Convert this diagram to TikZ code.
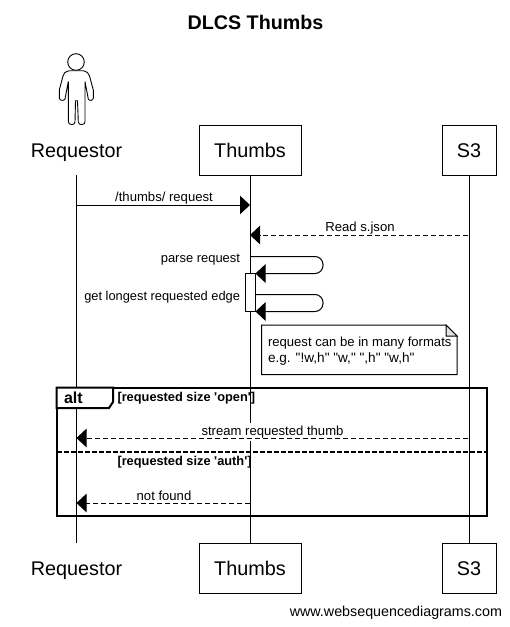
\documentclass[tikz,border=0pt]{standalone}
\usepackage{fontspec}
\setmainfont{Liberation Sans}
\newfontfamily\plainf{Liberation Sans}
\usetikzlibrary{arrows.meta}
\newcommand{\fs}[1]{\plainf\fontsize{#1}{#1}\selectfont}
\tikzset{
  x=1pt,y=-1pt,
  every node/.style={inner sep=0pt,outer sep=0pt},
  party/.style={minimum width=#1,minimum height=50pt,font=\fs{19.8},text height=14.5pt,text depth=0pt},
  partybox/.style={party=#1,draw=black,line width=1pt,fill=white},
  lifeline/.style={line width=1pt},
  msg/.style={line width=1pt,-{Triangle[length=10pt,width=18.5pt]}},
  reply/.style={msg,dash pattern=on 5pt off 3pt},
  selfmsg/.style={msg,rounded corners=8pt},
  label/.style={font=\fs{13.1},anchor=base},
  frame/.style={line width=2pt},
  frametext/.style={font=\fs{12.8}\bfseries,anchor=base west},
}
\begin{document}
\begin{tikzpicture}
\useasboundingbox (0,0) rectangle (510,627);
\fill[white] (0,0) rectangle (510,627);
\node[font=\fs{19.7}\bfseries,anchor=base] (title) at (255.5,29) {DLCS Thumbs};
% parties
\node[party=100pt] (reqT) at (76.5,150) {Requestor};
\node[partybox=102pt] (thT) at (250,150) {Thumbs};
\node[partybox=54pt] (s3T) at (469,150) {S3};
\node[party=100pt] (reqB) at (76.5,568) {Requestor};
\node[partybox=102pt] (thB) at (250,568) {Thumbs};
\node[partybox=54pt] (s3B) at (469,568) {S3};
% lifelines
\draw[lifeline] (reqT.south) -- (reqB.north);
\draw[lifeline] (thT.south) -- (thB.north);
\draw[lifeline] (s3T.south) -- (s3B.north);
% actor
\draw[line width=0.9pt,fill=white] (76,62) circle (8.3);
\draw[line width=0.9pt,fill=white,line join=round]
  (69.3,70.7) .. controls (65,72) and (63.5,73) .. (63,76)
  -- (59.3,90) -- (59.3,98) .. controls (59.5,101) and (64,101) .. (65,99)
  -- (68.3,81.7) -- (68.3,121.7) .. controls (68.5,125.5) and (75,125.5) .. (75,122)
  -- (75.5,100.7) -- (77.5,100.7) -- (78.3,122) .. controls (78.5,125.5) and (85,125.5) .. (85,121.7)
  -- (85,81.7) -- (88.3,99) .. controls (89,101) and (93.3,101) .. (93.3,98)
  -- (93.3,90) -- (89.5,76) .. controls (89,73) and (87,72) .. (83.3,70.7) -- cycle;
% messages
\coordinate (a1) at (76.5,205);
\coordinate (b1) at (250,205);
\draw[msg] (a1) -- (b1);
\node[label] (m1) at (164,201) {/thumbs/ request};
\coordinate (c2) at (468,235);
\coordinate (b2) at (250,235);
\draw[reply] (c2) -- (b2);
\node[label] (m2) at (360,231) {Read s.json};
\coordinate (b3) at (250,256.5);
\coordinate (b3r) at (323,256.5);
\coordinate (b3s) at (323,273.5);
\coordinate (b3e) at (255.5,273.5);
\draw[selfmsg] (b3) -- (b3r) -- (b3s) -- (b3e);
\node[label,font=\fs{12.95},anchor=base east] (m3) at (240,262) {parse request};
\node[draw=black,line width=1pt,fill=white,minimum width=9.5pt,minimum height=38pt] (act) at (250.3,292.3) {};
\coordinate (b4r) at (323,294.5);
\coordinate (b4s) at (323,311.5);
\coordinate (b4a) at (255,294.5);
\coordinate (b4e) at (255.5,311.5);
\draw[selfmsg] (b4a) -- (b4r) -- (b4s) -- (b4e);
\node[label,font=\fs{12.85},anchor=base east] (m4) at (240,300) {get longest requested edge};
% note
\draw[line width=1pt,fill=white] (261.5,325) -- (446,325) -- (457,336) -- (457,374.5) -- (261.5,374.5) -- cycle;
\draw[line width=1pt,fill=black!12] (446,325) -- (446,336) -- (457,336) -- cycle;
\node[label,anchor=base west] (n1) at (268,346) {request can be in many formats};
\node[label,font=\fs{13.6},anchor=base west] (n2) at (268,362) {e.g. "!w,h" "w," ",h" "w,h"};
% alt frame
\draw[frame] (56.5,387.5) rectangle (487,516);
\draw[frame,fill=white] (56.5,387.5) -- (113,387.5) -- (113,402) -- (109,408) -- (56.5,408) -- cycle;
\node[font=\fs{16}\bfseries,anchor=base west] (alt) at (64,403) {alt};
\node[frametext] (g1) at (117.5,401) {[requested size 'open']};
\draw[line width=2pt,dash pattern=on 5pt off 2pt] (56.5,452) -- (487,452);
\node[frametext] (g2) at (117.5,465) {[requested size 'auth']};
% alt messages
\node[label,fill=white,inner xsep=0.5pt,inner ysep=3pt] (m5) at (272.5,435) {stream requested thumb};
\coordinate (c5) at (468,438);
\coordinate (a5) at (76.5,438);
\draw[reply] (c5) -- (a5);
\coordinate (b6) at (250,503);
\coordinate (a6) at (76.5,503);
\draw[reply] (b6) -- (a6);
\node[label] (m6) at (164,500) {not found};
\node[font=\fs{14.3},anchor=base east] (foot) at (502,616) {www.websequencediagrams.com};
\end{tikzpicture}
\end{document}
